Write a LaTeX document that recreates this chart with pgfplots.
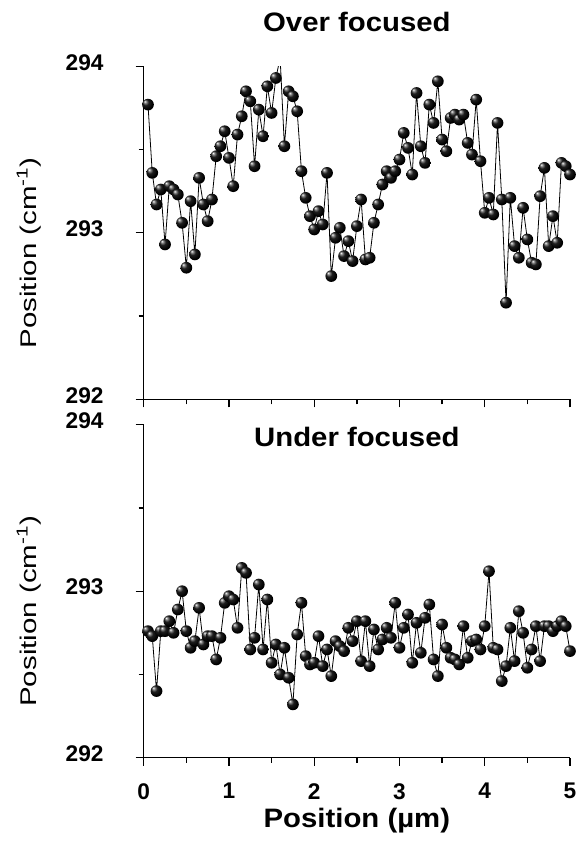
\documentclass[border=0pt]{standalone}
\usepackage{fontspec}
\setmainfont{Liberation Sans}
\usepackage{graphicx}
\usepackage{pgfplots}
\usepackage{pgfplotstable}
\pgfplotsset{compat=1.18}

% dark glossy sphere for the markers
\pgfdeclareradialshading{sphere}{\pgfpoint{-14bp}{14bp}}{%
  color(0bp)=(white); color(5bp)=(black!45); color(13bp)=(black!88);
  color(26bp)=(black); color(50bp)=(black)}
\pgfdeclareplotmark{sphere}{%
  \pgfpathcircle{\pgfpointorigin}{\pgfplotmarksize}%
  \pgfshadepath{sphere}{0}%
  \pgfusepath{discard}}

% peak position along the line scan, both focus settings
\pgfplotstableread{
x    top     bot
0.05 293.77 292.76
0.10 293.36 292.73
0.15 293.17 292.40
0.20 293.26 292.76
0.25 292.93 292.76
0.30 293.28 292.82
0.35 293.26 292.75
0.40 293.23 292.89
0.45 293.06 293.00
0.50 292.79 292.76
0.55 293.19 292.66
0.60 292.87 292.70
0.65 293.33 292.90
0.70 293.17 292.68
0.75 293.07 292.73
0.80 293.20 292.73
0.85 293.46 292.59
0.90 293.52 292.72
0.95 293.61 292.93
1.00 293.45 292.97
1.05 293.28 292.95
1.10 293.59 292.78
1.15 293.70 293.14
1.20 293.85 293.11
1.25 293.79 292.65
1.30 293.40 292.72
1.35 293.74 293.04
1.40 293.58 292.65
1.45 293.88 292.95
1.50 293.72 292.57
1.55 293.93 292.68
1.60 294.05 292.50
1.65 293.52 292.66
1.70 293.85 292.48
1.75 293.82 292.32
1.80 293.73 292.74
1.85 293.37 292.93
1.90 293.21 292.61
1.95 293.10 292.56
2.00 293.02 292.57
2.05 293.13 292.73
2.10 293.05 292.55
2.15 293.36 292.65
2.20 292.74 292.49
2.25 292.97 292.70
2.30 293.03 292.67
2.35 292.86 292.64
2.40 292.95 292.78
2.45 292.83 292.70
2.50 293.04 292.82
2.55 293.20 292.58
2.60 292.84 292.82
2.65 292.85 292.55
2.70 293.06 292.77
2.75 293.17 292.65
2.80 293.29 292.71
2.85 293.37 292.78
2.90 293.33 292.72
2.95 293.37 292.93
3.00 293.44 292.66
3.05 293.60 292.78
3.10 293.51 292.86
3.15 293.35 292.57
3.20 293.84 292.81
3.25 293.52 292.63
3.30 293.42 292.84
3.35 293.77 292.92
3.40 293.66 292.59
3.45 293.91 292.49
3.50 293.56 292.80
3.55 293.49 292.66
3.60 293.69 292.60
3.65 293.71 292.59
3.70 293.68 292.56
3.75 293.71 292.79
3.80 293.54 292.60
3.85 293.47 292.70
3.90 293.80 292.71
3.95 293.43 292.65
4.00 293.12 292.79
4.05 293.21 293.12
4.10 293.11 292.66
4.15 293.66 292.65
4.20 293.20 292.46
4.25 292.58 292.55
4.30 293.21 292.78
4.35 292.92 292.58
4.40 292.85 292.88
4.45 293.15 292.75
4.50 292.96 292.54
4.55 292.82 292.65
4.60 292.81 292.79
4.65 293.22 292.58
4.70 293.39 292.79
4.75 292.92 292.79
4.80 293.10 292.76
4.85 292.94 292.79
4.90 293.42 292.82
4.95 293.40 292.79
5.00 293.35 292.64
}\scan

\newcommand{\bigbold}{\bfseries\fontsize{20}{24}\selectfont}

\begin{document}
\begin{tikzpicture}
\path[use as bounding box] (0,0) rectangle (435pt,632.25pt);

\pgfplotsset{
  panel/.style={
    scale only axis,
    width=319.7pt, height=249.7pt,
    anchor=south west,
    xmin=0, xmax=5, ymin=292, ymax=294,
    axis x line*=bottom, axis y line*=left,
    axis line style={line width=1pt, -},
    every tick/.style={line width=1pt, black},
    tick align=outside,
    major tick length=6pt, minor tick length=3.75pt,
    xtick={0,1,2,3,4,5}, minor x tick num=1,
    ytick={292,293,294}, minor y tick num=1,
    tick label style={font=\bfseries\fontsize{17}{20}\selectfont},
    xticklabel={\pgfmathprintnumber[assume math mode=true]{\tick}},
    yticklabel={\pgfmathprintnumber[assume math mode=true]{\tick}},
    yticklabel style={anchor=east, inner sep=0pt, xshift=-24pt, yshift=3pt},
    xticklabel style={anchor=north, inner sep=0pt, yshift=-13pt},
    ylabel={\scalebox{1.3}[1]{Position (cm\textsuperscript{-1})}},
    ylabel style={at={(axis description cs:-0.2527,0.44)}, anchor=base,
      font=\fontsize{17}{20}\selectfont},
    % the default title style shifts up by 6pt: take it back
    title style={anchor=base, yshift=-6pt, font=\bigbold},
  },
  scanline/.style={black, line width=0.6pt, no marks},
  scanballs/.style={only marks, mark=sphere, mark size=4.4pt},
}

% === Over focused ===
\begin{axis}[panel, at={(107.8pt,332.8pt)},
  xticklabel={\hbox{}},
  title={\scalebox{1.1}[1]{Over focused}},
  title style={at={(axis description cs:0.5,1.105)}},
]
\addplot[scanline] table[x=x, y=top] {\scan};
% point at 1.60 lies above the range: line only
\addplot[scanballs, skip coords between index={31}{32}] table[x=x, y=top] {\scan};
\end{axis}

% === Under focused ===
\begin{axis}[panel, at={(107.8pt,64pt)},
  title={\scalebox{1.1}[1]{Under focused}},
  title style={at={(axis description cs:0.5,0.935)}},
  xlabel={\scalebox{1.1}[1]{Position (µm)}},
  xlabel style={at={(axis description cs:0.5,-0.209)}, anchor=base, font=\bigbold},
]
\addplot[scanline] table[x=x, y=bot] {\scan};
\addplot[scanballs] table[x=x, y=bot] {\scan};
\end{axis}

\end{tikzpicture}
\end{document}
